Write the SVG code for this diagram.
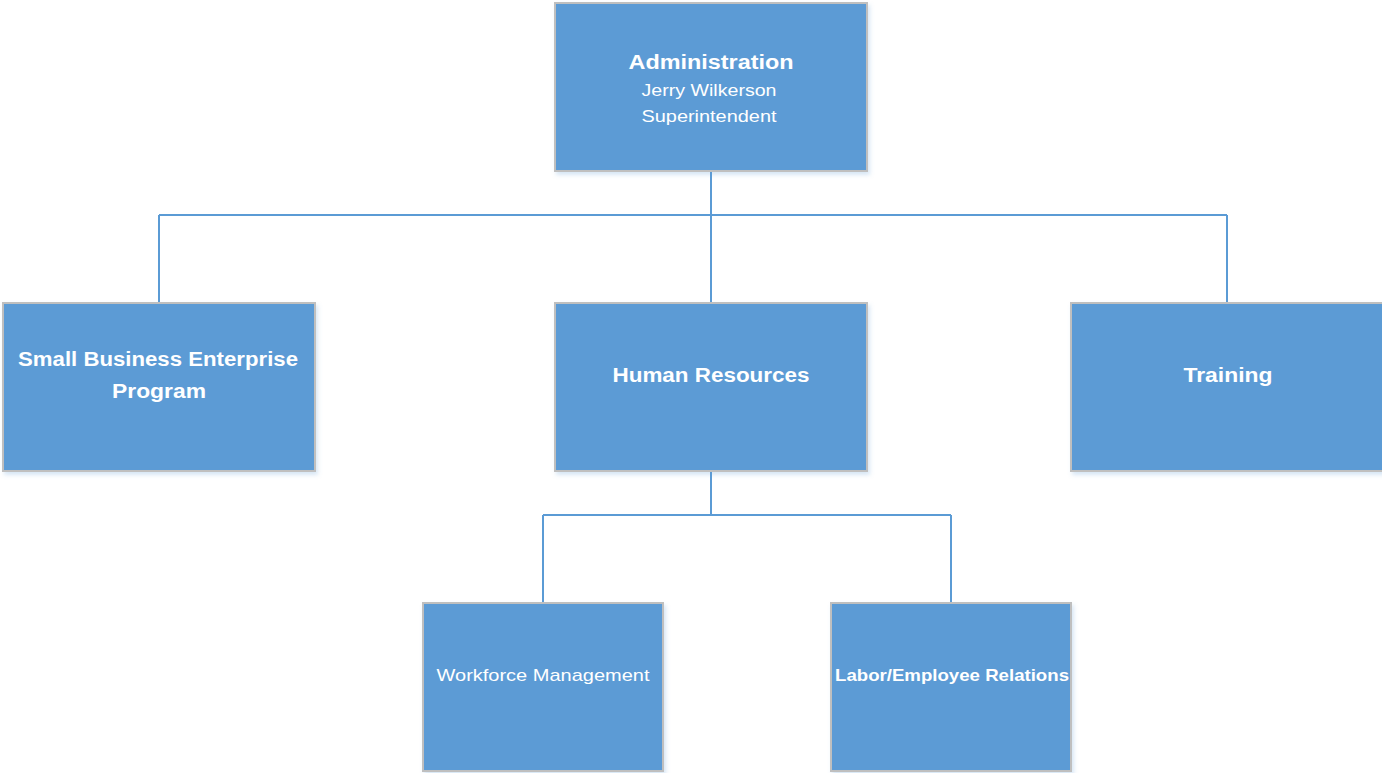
<svg xmlns="http://www.w3.org/2000/svg" width="1382" height="773" viewBox="0 0 1382 773">
<defs>
<filter id="sh" x="-5%" y="-5%" width="115%" height="115%">
<feDropShadow dx="2" dy="3" stdDeviation="2" flood-color="#5B9BD5" flood-opacity="0.25"/>
</filter>
</defs>
<style>
.box{fill:#5B9BD5;stroke:#BFBFBF;stroke-width:2;filter:url(#sh)}
.t{font-family:"Liberation Sans",Arial,sans-serif;fill:#FFFFFF;text-anchor:middle;dominant-baseline:central}
.b{font-weight:bold;font-size:20px}
.n{font-size:17px}
.c{fill:none;stroke:#5B9BD5;stroke-width:2}
</style>
<rect width="1382" height="773" fill="#FFFFFF"/>
<g id="connectors">
<path class="c" d="M711,171 V215 M159,215 H1227 M159,215 V303 M711,215 V303 M1227,215 V303"/>
<path class="c" d="M711,471 V515 M543,515 H951 M543,515 V603 M951,515 V603"/>
</g>
<g id="admin">
<rect class="box" x="555" y="3" width="312" height="168"/>
<text class="t b" x="711" y="62" textLength="165" lengthAdjust="spacingAndGlyphs">Administration</text>
<text class="t n" x="709" y="90" textLength="135" lengthAdjust="spacingAndGlyphs">Jerry Wilkerson</text>
<text class="t n" x="709" y="116" textLength="135" lengthAdjust="spacingAndGlyphs">Superintendent</text>
</g>
<g id="sbe">
<rect class="box" x="3" y="303" width="312" height="168"/>
<text class="t b" x="158" y="359" textLength="280" lengthAdjust="spacingAndGlyphs">Small Business Enterprise</text>
<text class="t b" x="159" y="391" textLength="94" lengthAdjust="spacingAndGlyphs">Program</text>
</g>
<g id="hr">
<rect class="box" x="555" y="303" width="312" height="168"/>
<text class="t b" x="711" y="375" textLength="197" lengthAdjust="spacingAndGlyphs">Human Resources</text>
</g>
<g id="training">
<rect class="box" x="1071" y="303" width="313" height="168"/>
<text class="t b" x="1228" y="375" textLength="89" lengthAdjust="spacingAndGlyphs">Training</text>
</g>
<g id="workforce">
<rect class="box" x="423" y="603" width="240" height="168"/>
<text class="t n" x="543" y="675" textLength="213" lengthAdjust="spacingAndGlyphs">Workforce Management</text>
</g>
<g id="labor">
<rect class="box" x="831" y="603" width="240" height="168"/>
<text class="t b" x="952" y="675" style="font-size:17px" textLength="234" lengthAdjust="spacingAndGlyphs">Labor/Employee Relations</text>
</g>
</svg>
